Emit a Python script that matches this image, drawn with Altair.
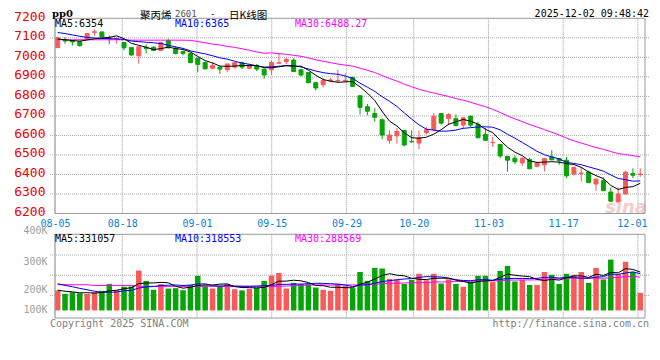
import altair as alt
import pandas as pd

# ---------------- data ----------------
days = list(range(80))
opens = [7050, 7090, 7085, 7080, 7093, 7128, 7130, 7100, 7094, 7076,
         7050, 7008, 7052, 7052, 7036, 7086, 7046, 7029, 7019, 6995,
         6973, 6944, 6950, 6937, 6950, 6973, 6944, 6956, 6939, 6936,
         6970, 6978, 6986, 6936, 6922, 6870, 6860, 6880, 6880, 6878,
         6897, 6803, 6747, 6712, 6680, 6575, 6598, 6625, 6568, 6561,
         6614, 6630, 6712, 6686, 6686, 6653, 6698, 6656, 6605, 6563,
         6554, 6492, 6483, 6459, 6476, 6442, 6449, 6490, 6481, 6473,
         6402, 6406, 6412, 6351, 6368, 6310, 6259, 6300, 6405, 6400]
closes = [7100, 7084, 7079, 7060, 7122, 7131, 7105, 7095, 7098, 7049,
          7012, 7054, 7046, 7036, 7076, 7049, 7019, 7020, 6973, 6964,
          6941, 6958, 6940, 6966, 6973, 6950, 6961, 6940, 6910, 6973,
          6973, 6990, 6927, 6910, 6871, 6843, 6881, 6884, 6882, 6882,
          6851, 6744, 6724, 6693, 6602, 6602, 6620, 6551, 6567, 6588,
          6629, 6698, 6663, 6707, 6651, 6690, 6653, 6588, 6575, 6565,
          6495, 6473, 6465, 6483, 6429, 6459, 6481, 6475, 6470, 6393,
          6436, 6407, 6358, 6376, 6317, 6263, 6300, 6412, 6396, 6402]
highs = [7106, 7103, 7088, 7082, 7125, 7142, 7132, 7112, 7100, 7080,
         7052, 7056, 7066, 7056, 7080, 7095, 7058, 7035, 7025, 6998,
         6978, 6975, 6953, 6968, 6975, 6978, 6965, 6966, 6942, 6985,
         7020, 6998, 6995, 6940, 6925, 6875, 6893, 6895, 6936, 6918,
         6900, 6808, 6761, 6740, 6686, 6626, 6639, 6628, 6625, 6625,
         6642, 6714, 6714, 6714, 6707, 6695, 6703, 6670, 6639, 6592,
         6556, 6497, 6497, 6488, 6486, 6461, 6483, 6524, 6485, 6490,
         6440, 6439, 6419, 6380, 6385, 6334, 6334, 6419, 6432, 6432]
lows = [7048, 7070, 7060, 7055, 7086, 7110, 7103, 7068, 7070, 7036,
        7008, 6968, 7020, 7032, 7032, 7045, 7016, 7010, 6970, 6924,
        6938, 6940, 6915, 6924, 6942, 6940, 6940, 6930, 6890, 6910,
        6968, 6965, 6925, 6902, 6866, 6830, 6846, 6873, 6868, 6876,
        6850, 6707, 6703, 6670, 6580, 6558, 6558, 6544, 6565, 6530,
        6605, 6622, 6656, 6653, 6646, 6634, 6642, 6585, 6572, 6541,
        6483, 6414, 6453, 6444, 6427, 6436, 6415, 6473, 6449, 6380,
        6395, 6363, 6356, 6317, 6315, 6260, 6257, 6298, 6381, 6388]
volumes = [224600, 208000, 216000, 211000, 207000, 216000, 223000, 257000, 226000, 243000,
           244000, 323000, 272000, 228000, 256000, 234000, 236000, 226000, 252000, 297000,
           249000, 234000, 248000, 257000, 231000, 225000, 233000, 239000, 272000, 298000,
           311000, 234000, 262000, 256000, 256000, 239000, 228000, 223000, 257000, 246000,
           236000, 316000, 272000, 336000, 333000, 282000, 277000, 257000, 277000, 307000,
           275000, 307000, 259000, 280000, 257000, 243000, 267000, 297000, 297000, 266000,
           321000, 346000, 269000, 277000, 252000, 252000, 316000, 302000, 257000, 307000,
           302000, 316000, 262000, 336000, 279000, 377000, 305000, 366000, 316000, 213000]

# moving-average values before the window fills
ma5_head = [7094, 7090, 7086, 7083]
ma10_head = [7127, 7122, 7115, 7108, 7102, 7099, 7097, 7096, 7094]
ma30_head = [7090, 7090, 7090, 7090, 7090, 7090, 7090, 7090, 7090, 7090,
             7088, 7088, 7088, 7088, 7088, 7088, 7088, 7088, 7087, 7081,
             7075, 7068, 7063, 7056, 7051, 7044, 7036, 7028, 7021]
vma5_head = [226000, 221000, 218000, 213000]
vma10_head = [258000, 250000, 243000, 235000, 228000, 221000, 216000, 216000, 217000]
vma30_head = [253000, 253000, 253000, 253000, 253000, 249000, 249000, 249000, 249000, 249000,
              249000, 245000, 245000, 245000, 245000, 245000, 245000, 245000, 245000, 245000,
              245000, 245000, 245000, 245000, 245000, 245000, 245000, 245000, 245000]

tick_days = [0, 9, 19, 29, 39, 48, 58, 68, 78]
tick_labels = ["08-05", "08-18", "09-01", "09-15", "09-29", "10-20", "11-03", "11-17", "12-01"]
price_ticks = [6200, 6300, 6400, 6500, 6600, 6700, 6800, 6900, 7000, 7100, 7200]
vol_ticks = [100000, 200000, 300000, 400000]
vol_grid = [200000, 300000, 400000]

title_main = "聚丙烯"
title_code = "2601"
title_kind = "日K线图"
symbol = "pp0"
stamp = "2025-12-02 09:48:42"
ma_price_txt = ["MA5:6354", "MA10:6365", "MA30:6488.27"]
ma_vol_txt = ["MA5:331057", "MA10:318553", "MA30:288569"]

# ---------------- derived table ----------------
df = pd.DataFrame({"day": days, "open": opens, "close": closes,
                   "high": highs, "low": lows, "vol": volumes})
df["dir"] = ["up" if c >= o else "down" for o, c in zip(opens, closes)]


def moving(series, n, head):
    out = series.rolling(n).mean()
    out.iloc[: n - 1] = head
    return out


df["ma5"] = moving(df["close"], 5, ma5_head)
df["ma10"] = moving(df["close"], 10, ma10_head)
df["ma30"] = moving(df["close"], 30, ma30_head)
df["vma5"] = moving(df["vol"], 5, vma5_head)
df["vma10"] = moving(df["vol"], 10, vma10_head)
df["vma30"] = moving(df["vol"], 30, vma30_head)

RED = "#f85a5a"
GREEN = "#06a406"
GRID = "#999999"
HGRID = "#a8a8a8"
BORDER = "#999999"
MONO = "DejaVu Sans Mono"

W, H = 600, 300
P_BOTTOM = 195.5
X_MIN, X_MAX = -0.36, 79.64
xscale = alt.Scale(domain=[X_MIN, X_MAX], nice=False, zero=False)
pscale = alt.Scale(domain=[6200, 7200], range=[P_BOTTOM, 0.3], nice=False, zero=False)
VOL_MIN, VOL_MAX, VOL_BASE = 88700, 502000, 126000
vscale = alt.Scale(domain=[VOL_MIN, VOL_MAX], range=[300, 216.3], nice=False, zero=False)
cscale = alt.Scale(domain=["up", "down"], range=[RED, GREEN])

tick_pos = [round(d * 1.0133 + X_MIN, 3) for d in tick_days]
ticks_df = pd.DataFrame({"pos": tick_pos})
expr = "''"
for p, lab in zip(reversed(tick_pos), reversed(tick_labels)):
    expr = f"abs(datum.value - {p}) < 0.01 ? '{lab}' : ({expr})"

x_axis = alt.Axis(values=tick_pos, labelExpr=expr, grid=False, ticks=False, domain=False,
                  labelColor="#0d7fd4", labelFont=MONO, labelFontSize=10, labelPadding=5,
                  labelFlush=False, orient="bottom", offset=-(H - P_BOTTOM), title=None,
                  labelOffset={"condition": {"test": "datum.value > 75", "value": -6}, "value": 0})

p_axis = alt.Axis(values=price_ticks, orient="left", grid=False, format="d",
                  ticks=False, domain=False, labelColor="#ee0000", labelFont=MONO,
                  labelFontSize=13, labelPadding=5, labelOffset=-2, title=None)

v_axis = alt.Axis(values=vol_ticks, orient="left", grid=False,
                  ticks=False, domain=False, labelColor="#a0a0a0", labelFont=MONO,
                  labelFontSize=10, labelPadding=3, title=None,
                  labelExpr="datum.value / 1000 + 'K'",
                  labelOffset={"condition": [{"test": "datum.value > 350000", "value": -24},
                                             {"test": "datum.value > 250000", "value": -14}],
                               "value": -6})

X = alt.X("day:Q", scale=xscale, axis=x_axis)
XL = alt.X(datum=X_MIN, scale=xscale, axis=x_axis)
XR = alt.X2(datum=X_MAX)


def PY(field):
    return alt.Y(f"{field}:Q", scale=pscale, axis=p_axis)


def VY(field):
    return alt.Y(f"{field}:Q", scale=vscale, axis=v_axis)


cdir = alt.Color("dir:N", scale=cscale, legend=None)
one = pd.DataFrame({"k": [0]})


def label(txt, x, y, color="#000000", align="left", size=10, font=MONO, weight="normal"):
    return alt.Chart(one).mark_text(text=txt, color=color, align=align, fontSize=size,
                                    font=font, fontWeight=weight, baseline="alphabetic").encode(
        x=alt.value(x), y=alt.value(y))


def ma_line(field, color, Yf):
    return alt.Chart(df).mark_line(color=color, strokeWidth=1).encode(x=X, y=Yf(field))


def hgrid(levels, Yf, dash):
    return alt.Chart(pd.DataFrame({"lvl": levels})).mark_rule(
        color=HGRID, strokeDash=dash, strokeWidth=1).encode(
        y=Yf("lvl"), x=alt.value(0), x2=alt.value(W))


# ---------------- price panel ----------------
p_hgrid = hgrid(price_ticks[1:-1], PY, [1, 1])
p_vgrid = alt.Chart(ticks_df).mark_rule(color=GRID, strokeDash=[1, 1], strokeWidth=1).encode(
    x=alt.X("pos:Q", scale=xscale, axis=x_axis),
    y=alt.Y(datum=7200, scale=pscale, axis=p_axis), y2=alt.Y2(datum=6200))
watermark = alt.Chart(one).mark_text(text="sina", font="DejaVu Sans", fontSize=18, fontWeight="bold",
                                     fontStyle="italic", color="#f3cccc", align="right").encode(
    x=alt.value(W - 3), y=alt.value(190))
wick = alt.Chart(df).mark_rule(strokeWidth=1).encode(
    x=X, y=PY("low"), y2="high:Q", color=cdir)
body = alt.Chart(df).mark_bar(size=4, strokeWidth=1).encode(
    x=X, y=PY("open"), y2="close:Q", color=cdir, stroke=cdir)
p_border = alt.Chart(one).mark_rect(fillOpacity=0, stroke=BORDER, strokeWidth=1).encode(
    x=XL, x2=XR, y=alt.Y(datum=7200, scale=pscale, axis=p_axis), y2=alt.Y2(datum=6200))

price = alt.layer(
    p_vgrid, p_hgrid, watermark, wick, body,
    ma_line("ma30", "#ff00ff", PY), ma_line("ma10", "#0000ff", PY),
    ma_line("ma5", "#000000", PY), p_border,
    label(ma_price_txt[0], 5, 8.7), label(ma_price_txt[1], 125, 8.7, "#0000ff"),
    label(ma_price_txt[2], 245, 8.7, "#ff00ff"),
    label(symbol, 2, -0.8, size=10, font="DejaVu Serif", weight="bold"),
    label(title_main, 90, 0.7, size=10.5, font="Noto Sans CJK SC"),
    label(title_code, 125, -0.8, color="#555555", size=9, font=MONO),
    label("-", 160, -0.8, size=9, font=MONO),
    label(title_kind, 179, 0.7, size=10.5, font="Noto Sans CJK SC"),
    label(stamp, 599, -1.5, align="right"),
)

# ---------------- volume panel ----------------
v_hgrid = hgrid(vol_grid, VY, [1, 1])
v_vgrid = alt.Chart(ticks_df).mark_rule(color=GRID, strokeDash=[1, 1], strokeWidth=1).encode(
    x=alt.X("pos:Q", scale=xscale, axis=x_axis),
    y=alt.Y(datum=VOL_MAX, scale=vscale, axis=v_axis), y2=alt.Y2(datum=VOL_MIN))
vbars = alt.Chart(df).mark_bar(size=5.5).encode(
    x=X, y=VY("vol"), y2=alt.Y2(datum=VOL_BASE), color=cdir)
v_border = alt.Chart(one).mark_rect(fillOpacity=0, stroke=BORDER, strokeWidth=1).encode(
    x=XL, x2=XR, y=alt.Y(datum=VOL_MAX, scale=vscale, axis=v_axis), y2=alt.Y2(datum=VOL_MIN))

volume = alt.layer(
    v_vgrid, v_hgrid, vbars,
    ma_line("vma30", "#ff00ff", VY), ma_line("vma10", "#0000ff", VY),
    ma_line("vma5", "#000000", VY), v_border,
    label(ma_vol_txt[0], 5, 223.7), label(ma_vol_txt[1], 125, 223.7, "#0000ff"),
    label(ma_vol_txt[2], 245, 223.7, "#ff00ff"),
    label("Copyright 2025 SINA.COM", 0, 309, color="#808080"),
    label("http://finance.sina.com.cn", 599, 309, color="#808080", align="right"),
)

chart = alt.layer(price, volume).resolve_scale(y="independent").properties(
    width=W, height=H,
    autosize=alt.AutoSizeParams(type="none"),
    padding={"left": 42, "top": 10, "right": 0, "bottom": 30},
    background="#ffffff",
).configure_view(stroke=None)

chart.save("out.html", embed_options={"renderer": "svg", "actions": False})
